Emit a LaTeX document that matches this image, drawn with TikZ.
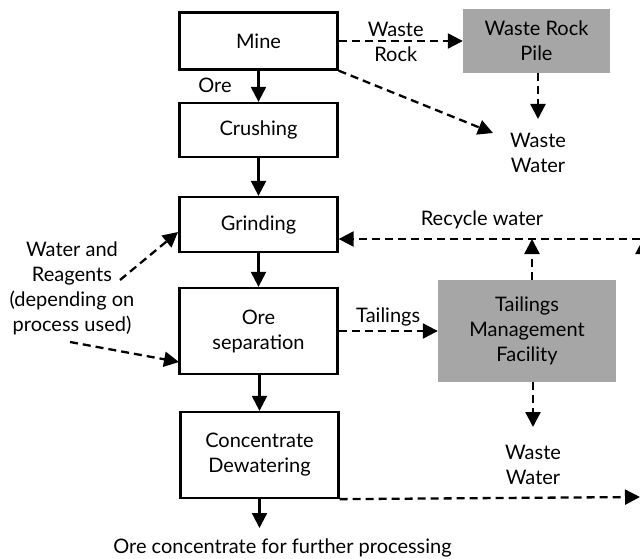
\documentclass[tikz,border=0pt]{standalone}
\usepackage{fontspec}
\setmainfont{Lato}
\usetikzlibrary{arrows.meta}
\begin{document}
\begin{tikzpicture}[x=1pt,y=-1pt,
  every node/.style={font=\fontsize{20}{25}\selectfont, align=center, inner sep=0pt},
  stage/.style={draw, line width=2.3pt, minimum width=158pt},
  grey/.style={fill=black!35, minimum width=147pt},
  tipped/.style={line width=2.3pt, -{Triangle[length=15pt,width=15pt]}},
  dashflow/.style={tipped, dash pattern=on 8pt off 5pt}]
\useasboundingbox (0,0) rectangle (640,559);
\clip (0,0) rectangle (640,559);

% main process chain
\node[stage, minimum height=57pt] (mine) at (258.5,41) {Mine};
\node[stage, minimum height=54pt] (crush) at (258.5,130) {Crushing};
\node[stage, minimum height=55pt] (grind) at (258.5,224.5) {Grinding};
\node[stage, minimum height=86pt] (sep) at (258.5,331) {Ore\\separation};
\node[stage, minimum height=86pt] (dew) at (259.5,455) {Concentrate\\Dewatering};

% storage facilities
\node[grey, minimum height=64pt] (pile) at (536.5,41) {Waste Rock\\Pile};
\node[grey, minimum width=178pt, minimum height=102pt] (tail) at (527,331) {Tailings\\Management\\Facility};

% free text
\node (ww1) at (538,153) {Waste\\Water};
\node (ww2) at (533,465) {Waste\\Water};
\node (reag) at (72,288) {Water and\\Reagents\\(depending on\\process used)};
\node (prod) at (282.5,548) {Ore concentrate for further processing};

% helper points
\coordinate (wwend) at (493,133);
\coordinate (ww1tip) at (538,119);
\coordinate (ww2tip) at (533,427);
\coordinate (rec) at (532,239);
\coordinate (recR) at (640,239);
\coordinate (outR) at (640,497);
\coordinate (reagA) at (120,280);
\coordinate (reagB) at (70,342);
\coordinate (grindIn) at (178,232);
\coordinate (sepIn) at (179,362);
\coordinate (prodTip) at (259.5,528);

% solid flow
\draw[tipped] (mine) -- (crush);
\node at (215,85) {Ore};
\draw[tipped] (crush) -- (grind);
\draw[tipped] (grind) -- (sep);
\draw[tipped] (sep.south -| dew.north) -- (dew.north);
\draw[tipped] (dew.south -| prodTip) -- (prodTip);

% dashed flows
\draw[dashflow] (mine.east |- pile.west) -- (pile.west)
  node[midway, yshift=-1pt, xshift=-5pt] {Waste\\Rock};
\draw[dashflow] (mine.south east) -- (wwend);
\draw[dashflow] (pile.south -| ww1tip) -- (ww1tip);
\draw[dashflow] (sep.east |- tail.west) -- (tail.west)
  node[midway, above=4pt] {Tailings};
\draw[dashflow] (tail.north -| rec) -- (rec);
\draw[dashflow] (recR) -- (grind.east |- rec);
\node at (482,220) {Recycle water};
\draw[dashflow] (643,251) -- (643,239);
\draw[dashflow] (tail.south -| ww2tip) -- (ww2tip);
\draw[dashflow] (dew.south east) -- (outR);
\draw[dashflow] (reagA) -- (grindIn);
\draw[dashflow] (reagB) -- (sepIn);
\end{tikzpicture}
\end{document}
